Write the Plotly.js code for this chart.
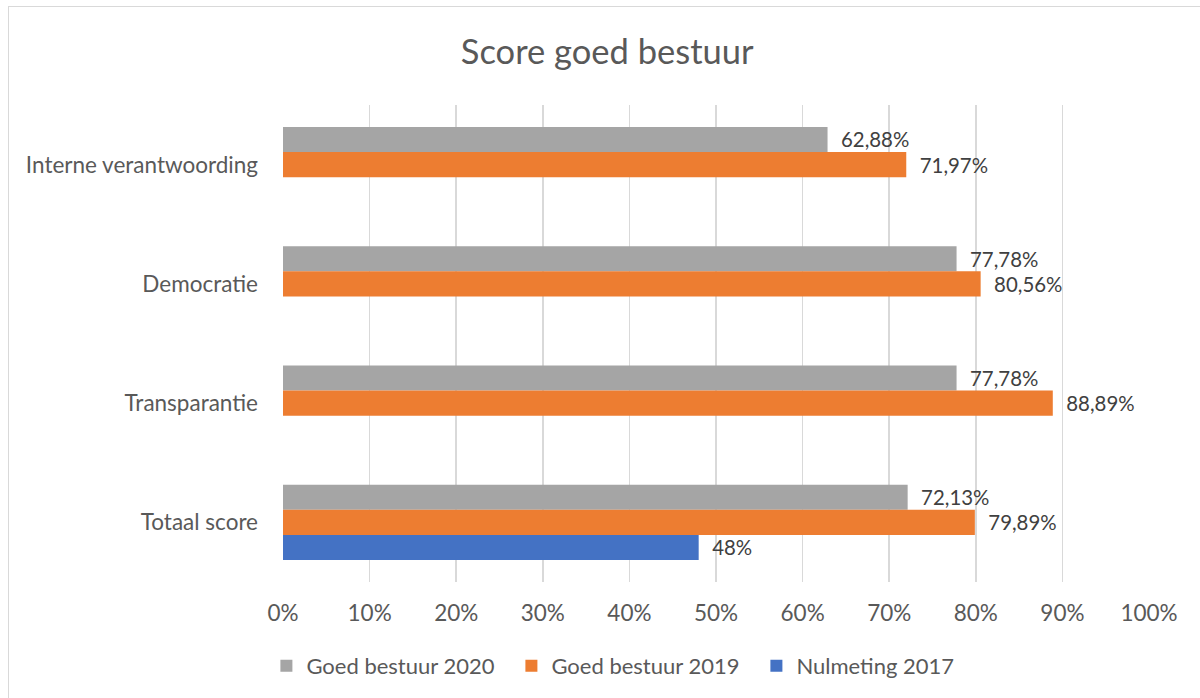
<!DOCTYPE html>
<html>
<head>
<meta charset="utf-8">
<script src="https://cdn.plot.ly/plotly-3.0.1.min.js"></script>
<style>
  html, body { margin: 0; padding: 0; background: #ffffff; }
  #wrap { position: relative; width: 1200px; height: 698px; overflow: hidden; }
  #chart { position: absolute; left: 0; top: 0; width: 1200px; height: 698px; }
  #frame { position: absolute; left: 8px; top: 6px; width: 1300px; height: 800px;
           border-left: 1.5px solid #d9d9d9; border-top: 1.5px solid #d9d9d9; pointer-events: none; }
</style>
</head>
<body>
<div id="wrap">
  <div id="chart"></div>
  <div id="frame"></div>
</div>
<script>
const categories = ["Interne verantwoording", "Democratie", "Transparantie", "Totaal score"];
const seriesNames = ["Goed bestuur 2020", "Goed bestuur 2019", "Nulmeting 2017"];
const values2020 = [0.6288, 0.7778, 0.7778, 0.7213];
const values2019 = [0.7197, 0.8056, 0.8889, 0.7989];
const categories2017 = ["Totaal score"];
const values2017 = [0.48];
const xTickValues = [0, 0.1, 0.2, 0.3, 0.4, 0.5, 0.6, 0.7, 0.8, 0.9, 1.0];

const colors = ["#A5A5A5", "#ED7D31", "#4472C4"];
const fontFamily = "Lato, 'Open Sans', sans-serif";
const textColor = "#595959";
const labelFont = { family: fontFamily, size: 22, color: "#404040" };
const pad = "\u00A0\u00A0";

const traces = [
  { type: "bar", orientation: "h", name: seriesNames[0], y: categories, x: values2020,
    marker: { color: colors[0] }, texttemplate: pad + "%{x:.2%}", textposition: "outside",
    textfont: labelFont, cliponaxis: false, hoverinfo: "x+y" },
  { type: "bar", orientation: "h", name: seriesNames[1], y: categories, x: values2019,
    marker: { color: colors[1] }, texttemplate: pad + "%{x:.2%}", textposition: "outside",
    textfont: labelFont, cliponaxis: false, hoverinfo: "x+y" },
  { type: "bar", orientation: "h", name: seriesNames[2], y: categories2017, x: values2017,
    marker: { color: colors[2] }, texttemplate: pad + "%{x:.0%}", textposition: "outside",
    textfont: labelFont, cliponaxis: false, hoverinfo: "x+y" }
];

const layout = {
  width: 1200, height: 698,
  paper_bgcolor: "#ffffff", plot_bgcolor: "#ffffff",
  separators: ",.",
  font: { family: fontFamily, color: textColor, size: 22 },
  margin: { l: 283, r: 51, t: 105, b: 116, pad: 0 },
  title: { text: "Score goed bestuur", font: { family: fontFamily, size: 34.5, color: textColor },
           x: 0.506, xref: "container", xanchor: "center", y: 0.925, yref: "container", yanchor: "middle" },
  barmode: "group",
  bargap: 0.37,
  bargroupgap: 0,
  showlegend: true,
  legend: { orientation: "h", x: 0.222, xref: "container", xanchor: "left",
            y: 0.046, yref: "container", yanchor: "middle",
            font: { family: fontFamily, size: 22, color: textColor },
            traceorder: "normal", itemwidth: 30, entrywidth: 200 },
  xaxis: { range: [0, 1], tickvals: xTickValues, tickformat: ".0%", showgrid: true,
           gridcolor: "#d9d9d9", gridwidth: 1.5, zeroline: false, showline: false,
           ticks: "", ticklabelstandoff: 15, tickfont: { family: fontFamily, size: 22.5, color: textColor },
           fixedrange: true },
  yaxis: { type: "category", categoryorder: "array", categoryarray: categories,
           autorange: "reversed", showgrid: false, zeroline: false, showline: false,
           ticks: "", ticklabelstandoff: 24, tickfont: { family: fontFamily, size: 22.5, color: textColor },
           fixedrange: true }
};

Plotly.newPlot("chart", traces, layout, { displayModeBar: false, staticPlot: true });
</script>
</body>
</html>
